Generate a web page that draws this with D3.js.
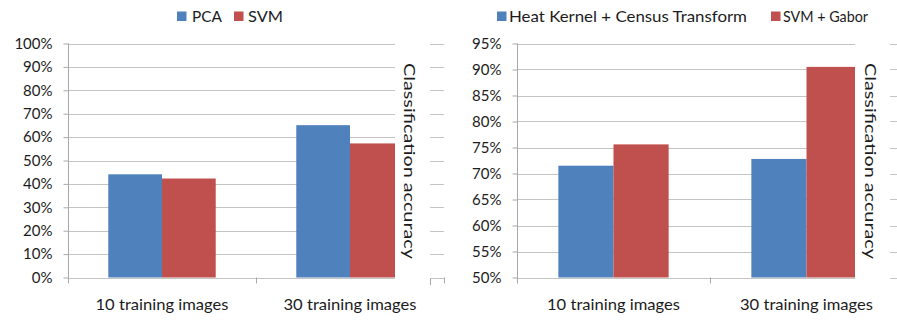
<!DOCTYPE html>
<html>
<head>
<meta charset="utf-8">
<script src="https://cdn.jsdelivr.net/npm/d3@7"></script>
<style>
  html, body { margin: 0; padding: 0; background: #fff; }
  svg { display: block; font-family: Lato, "Open Sans", sans-serif; }
</style>
</head>
<body>
<svg id="chart" width="897" height="320"></svg>
<script>
// Categories shared by both panels
const categories = ["10 training images", "30 training images"];

// Left panel: PCA vs SVM
const leftSeries = ["PCA", "SVM"];
const leftPCA = [0.441, 0.651];
const leftSVM = [0.423, 0.573];
const leftTickLabels = ["0%", "10%", "20%", "30%", "40%", "50%", "60%", "70%", "80%", "90%", "100%"];

// Right panel: Heat Kernel + Census Transform vs SVM + Gabor
const rightSeries = ["Heat Kernel + Census Transform", "SVM + Gabor"];
const rightHK = [0.715, 0.728];
const rightGabor = [0.756, 0.905];
const rightTickLabels = ["50%", "55%", "60%", "65%", "70%", "75%", "80%", "85%", "90%", "95%"];

const axisTitle = "Classification accuracy";
const colors = ["#4F81BD", "#C0504D"];

const svg = d3.select("#chart");
const textColor = "#1c1c1c";
const gridColor = "#c4c4c4";
const axisColor = "#a8a8a8";

function panel(cfg) {
  const g = svg.append("g");
  const tickValues = cfg.tickLabels.map(s => parseFloat(s) / 100);
  const y = d3.scaleLinear()
    .domain([tickValues[0], tickValues[tickValues.length - 1]])
    .range([277.5, 43.5]);
  const x = d3.scaleBand().domain(categories).range([cfg.x0, cfg.x1]);
  const xs = d3.scaleBand().domain(cfg.series).range([0, x.bandwidth()]).paddingOuter(0.75);

  // Gridlines
  g.append("g").selectAll("line").data(tickValues).join("line")
    .attr("x1", cfg.x0).attr("x2", cfg.clipRight)
    .attr("y1", d => Math.round(y(d)) + 0.5).attr("y2", d => Math.round(y(d)) + 0.5)
    .attr("stroke", gridColor);
  // Gridline stubs past the axis title
  g.append("g").selectAll("line").data(tickValues).join("line")
    .attr("x1", cfg.stubStart).attr("x2", cfg.x1)
    .attr("y1", d => Math.round(y(d)) + 0.5).attr("y2", d => Math.round(y(d)) + 0.5)
    .attr("stroke", gridColor);
  if (cfg.stubTick) {
    g.append("line")
      .attr("x1", cfg.stubStart + 0.5).attr("x2", cfg.stubStart + 0.5)
      .attr("y1", Math.round(y(tickValues[0])) + 0.5).attr("y2", Math.round(y(tickValues[0])) + 7)
      .attr("stroke", axisColor);
  }

  // Bars, clipped where the axis title sits
  const clipId = "clip-" + cfg.id;
  svg.append("clipPath").attr("id", clipId).append("rect")
    .attr("x", cfg.x0).attr("y", 0).attr("width", cfg.clipRight - cfg.x0).attr("height", 320);
  const rows = categories.map((c, i) => ({ cat: c, vals: cfg.values.map(v => v[i]) }));
  const bars = g.append("g").attr("clip-path", `url(#${clipId})`);
  rows.forEach(r => {
    bars.selectAll(null).data(r.vals.map((v, k) => ({ s: cfg.series[k], v, k }))).join("rect")
      .attr("x", d => x(r.cat) + xs(d.s))
      .attr("width", xs.bandwidth())
      .attr("y", d => y(d.v))
      .attr("height", d => y(tickValues[0]) - y(d.v))
      .attr("fill", d => colors[d.k]);
  });

  // Y axis
  const yAxis = d3.axisLeft(y)
    .tickValues(tickValues)
    .tickFormat((d, i) => cfg.tickLabels[i])
    .tickSize(5)
    .tickSizeOuter(0)
    .tickPadding(11);
  const ag = g.append("g").attr("transform", `translate(${cfg.x0 + 0.5},0)`).call(yAxis);
  ag.select(".domain").remove();
  ag.selectAll(".tick line").attr("stroke", axisColor);
  ag.selectAll(".tick text")
    .attr("fill", textColor)
    .style("font-size", "15px")
    .style("font-family", "Lato, sans-serif");
  g.append("line")
    .attr("x1", cfg.x0 + 0.5).attr("x2", cfg.x0 + 0.5)
    .attr("y1", 43.5).attr("y2", 283.5)
    .attr("stroke", axisColor);

  // Category ticks below the baseline
  const boundaries = categories.map(c => x(c)).concat([cfg.x1]);
  g.append("g").selectAll("line").data(boundaries.slice(1)).join("line")
    .attr("x1", d => Math.round(d) + 0.5).attr("x2", d => Math.round(d) + 0.5)
    .attr("y1", 277.5).attr("y2", 283.5)
    .attr("stroke", axisColor);

  // Category labels
  g.append("g").selectAll("text").data(categories).join("text")
    .attr("x", d => x(d) + x.bandwidth() / 2)
    .attr("y", 309.5)
    .attr("text-anchor", "middle")
    .attr("fill", textColor)
    .style("font-size", "15px")
    .attr("textLength", 133)
    .attr("lengthAdjust", "spacingAndGlyphs")
    .text(d => d);

  // Axis title on the right, reading top to bottom
  g.append("rect")
    .attr("x", cfg.clipRight).attr("y", 40).attr("width", cfg.stubStart - cfg.clipRight).attr("height", 245)
    .attr("fill", "#fff");
  g.append("text")
    .attr("transform", `translate(${cfg.titleX},161) rotate(90)`)
    .attr("text-anchor", "middle")
    .attr("fill", textColor)
    .style("font-size", "16px")
    .attr("textLength", 196)
    .attr("lengthAdjust", "spacingAndGlyphs")
    .text(axisTitle);

  // Legend
  cfg.legend.forEach((L, k) => {
    g.append("rect").attr("x", L.sx).attr("y", 11.5).attr("width", 9.5).attr("height", 9.5).attr("fill", colors[k]);
    g.append("text").attr("x", L.tx).attr("y", 21.5)
      .attr("fill", textColor)
      .style("font-size", "15px")
      .attr("textLength", L.len)
      .attr("lengthAdjust", "spacingAndGlyphs")
      .text(cfg.series[k]);
  });
}

panel({
  id: "left", series: leftSeries, values: [leftPCA, leftSVM], tickLabels: leftTickLabels,
  x0: 68, x1: 444, clipRight: 395, stubStart: 430, stubTick: true, titleX: 404,
  legend: [{ sx: 177, tx: 192, len: 30 }, { sx: 234, tx: 248, len: 35 }]
});
panel({
  id: "right", series: rightSeries, values: [rightHK, rightGabor], tickLabels: rightTickLabels,
  x0: 517, x1: 903, clipRight: 855, stubStart: 890, stubTick: false, titleX: 865,
  legend: [{ sx: 497, tx: 509, len: 238 }, { sx: 771, tx: 783, len: 85 }]
});
</script>
</body>
</html>
